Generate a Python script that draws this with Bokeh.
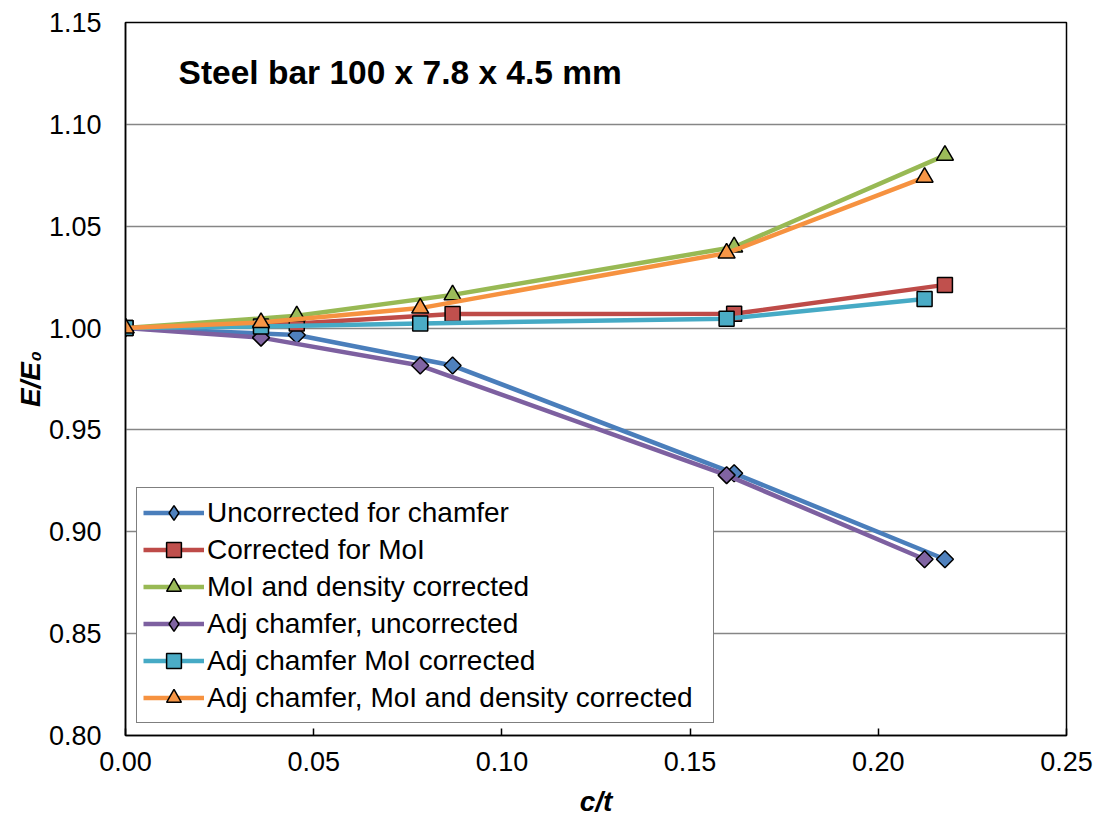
import numpy as np
from bokeh.plotting import figure
from bokeh.models import Range1d, FixedTicker, NumeralTickFormatter, Label, Legend
from bokeh.embed import file_html
from bokeh.resources import INLINE

# ---- data ----
x_uncorr = [0.0, 0.0455, 0.0869, 0.1617, 0.2177]
x_adj = [0.0, 0.0360, 0.0783, 0.1597, 0.2123]

uncorrected = [1.0, 0.9966, 0.9816, 0.9287, 0.8865]
corrected_moi = [1.0, 1.0022, 1.0069, 1.0070, 1.0212]
moi_density = [1.0, 1.0060, 1.0163, 1.0398, 1.0848]
adj_uncorrected = [1.0, 0.9953, 0.9816, 0.9278, 0.8865]
adj_moi = [1.0, 1.0008, 1.0023, 1.0046, 1.0143]
adj_moi_density = [1.0, 1.0027, 1.0098, 1.0368, 1.0740]

labels = ["Uncorrected for chamfer", "Corrected for MoI", "MoI and density corrected",
          "Adj chamfer, uncorrected", "Adj chamfer MoI corrected",
          "Adj chamfer, MoI and density corrected"]
x_ticks = [0.0, 0.05, 0.10, 0.15, 0.20, 0.25]
y_ticks = [0.80, 0.85, 0.90, 0.95, 1.00, 1.05, 1.10, 1.15]

series = [
    (x_uncorr, uncorrected, "#4A7EBB", "#4F81BD", "diamond"),
    (x_uncorr, corrected_moi, "#BE4B48", "#C0504D", "square"),
    (x_uncorr, moi_density, "#98B954", "#9BBB59", "triangle"),
    (x_adj, adj_uncorrected, "#7D60A0", "#8064A2", "diamond"),
    (x_adj, adj_moi, "#46AAC5", "#4BACC6", "square"),
    (x_adj, adj_moi_density, "#F69240", "#F79646", "triangle"),
]

FONT = "Liberation Sans"

p = figure(width=1099, height=821, output_backend="svg", toolbar_location=None,
           x_range=Range1d(0, 0.25), y_range=Range1d(0.80, 1.15),
           min_border_left=125, min_border_right=33, min_border_top=22, min_border_bottom=86)

p.outline_line_color = "black"
p.outline_line_width = 1.5
p.background_fill_color = "white"
p.border_fill_color = "white"

p.xgrid.grid_line_color = None
p.ygrid.grid_line_color = "#868686"
p.ygrid.grid_line_width = 1.5

p.xaxis.ticker = FixedTicker(ticks=x_ticks)
p.yaxis.ticker = FixedTicker(ticks=y_ticks)
p.xaxis.formatter = NumeralTickFormatter(format="0.00")
p.yaxis.formatter = NumeralTickFormatter(format="0.00")
p.xaxis.minor_tick_line_color = None
p.yaxis.minor_tick_line_color = None
p.xaxis.major_tick_in = 7
p.xaxis.major_tick_out = 0
p.yaxis.major_tick_in = 0
p.yaxis.major_tick_out = 0
p.xaxis.axis_line_color = "black"
p.yaxis.axis_line_color = "black"
p.xaxis.axis_line_width = 1.5
p.yaxis.axis_line_width = 1.5
p.xaxis.major_tick_line_width = 1.5

p.xaxis.major_label_text_font = FONT
p.yaxis.major_label_text_font = FONT
p.xaxis.major_label_text_font_size = "27px"
p.yaxis.major_label_text_font_size = "27px"
p.xaxis.major_label_text_color = "black"
p.yaxis.major_label_text_color = "black"
p.xaxis.major_label_standoff = 16
p.yaxis.major_label_standoff = 24

p.xaxis.axis_label = "c/t"
p.yaxis.axis_label = "E/E\u2080"
for ax in (p.xaxis, p.yaxis):
    ax.axis_label_text_font = FONT
    ax.axis_label_text_font_style = "bold italic"
    ax.axis_label_text_font_size = "28px"
    ax.axis_label_text_color = "black"
p.xaxis.axis_label_standoff = 12
p.yaxis.axis_label_standoff = 0

items = []
for (xs, ys, lc, fc, mk), lab in zip(series, labels):
    r1 = p.line(xs, ys, line_color=lc, line_width=4.5)
    if mk == "diamond":
        p.scatter(xs, ys, marker="square", angle=np.pi / 4, size=12,
                  fill_color=fc, line_color="black", line_width=1.5)
        # legend-only diamond glyph (no visible points in the plot)
        r2 = p.scatter([np.nan], [np.nan], marker="diamond", size=16,
                       fill_color=fc, line_color="black", line_width=1.5)
    elif mk == "square":
        r2 = p.scatter(xs, ys, marker="square", size=15,
                       fill_color=fc, line_color="black", line_width=1.5)
    else:
        r2 = p.scatter(xs, ys, marker="triangle", size=17,
                       fill_color=fc, line_color="black", line_width=1.5)
    items.append((lab, [r1, r2]))

legend = Legend(items=items, location=(11, 12))
legend.label_text_font = FONT
legend.label_text_font_size = "28px"
legend.label_text_color = "black"
legend.label_height = 37
legend.glyph_height = 37
legend.glyph_width = 61
legend.label_standoff = 3
legend.label_width = 500
legend.spacing = 0
legend.padding = 6
legend.margin = 0
legend.border_line_color = "black"
legend.border_line_width = 1.5
legend.background_fill_alpha = 1.0
p.add_layout(legend, "center")

title = Label(x=0.0141, y=1.1255, text="Steel bar 100 x 7.8 x 4.5 mm",
              text_font=FONT, text_font_style="bold", text_font_size="33.5px",
              text_color="black", text_baseline="alphabetic")
p.add_layout(title)

open("out.html", "w").write(file_html(p, INLINE))
